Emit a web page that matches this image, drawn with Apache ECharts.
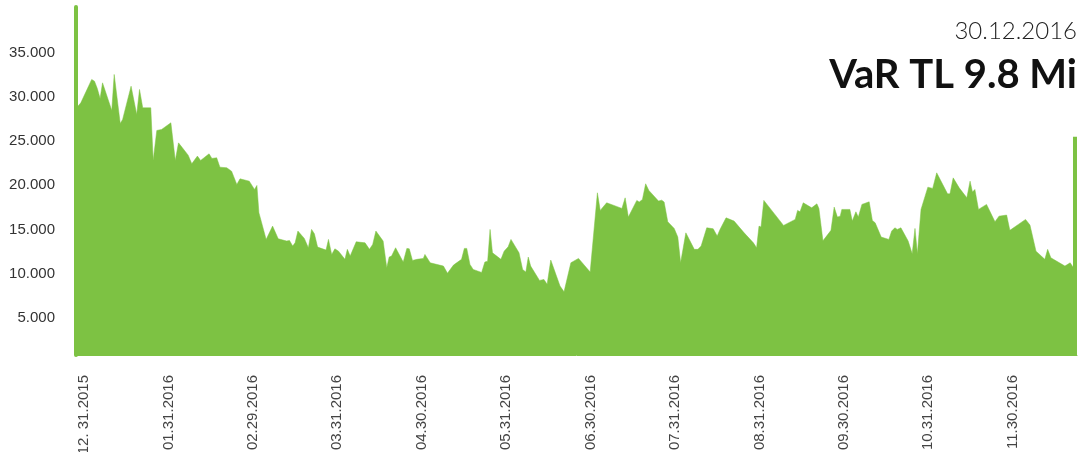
<!DOCTYPE html>
<html>
<head>
<meta charset="utf-8">
<script src="https://cdn.jsdelivr.net/npm/echarts@6/dist/echarts.min.js"></script>
<style>html,body{margin:0;padding:0;background:#fff}#c{width:1078px;height:452px}</style>
</head>
<body>
<div id="c"></div>
<script>
// trading-day position of each vertex
const dayIdx = [0,1.2,3.9,4.6,5.3,6,6.6,8.9,9.5,11,11.6,13.7,15.1,15.8,16.6,18.6,19.2,20.1,21.3,23.6,24.7,25.5,27.9,28.8,30.2,31,33.1,33.8,35,35.8,37.5,38.7,40,40.8,43.1,43.5,44.4,45,45.5,47.3,48.9,50.3,52.4,53.1,53.9,54.5,55.2,56.8,57.8,58.6,59.3,60.1,62.2,62.8,63.6,64.4,65.3,66.9,67.5,68.2,69.7,71.9,72.3,73,73.8,74.6,76.4,77.3,77.9,78.5,79.5,81.4,82.3,82.9,83.7,84.8,86.4,86.8,88.1,91.4,92.4,93.9,95.9,96.6,97.2,98,98.8,100.9,101.7,102.4,103,103.6,105.7,106.5,107.5,108.2,110.2,111.1,111.9,112.5,113.1,115.3,116.4,117.2,118.1,120.4,121.4,123.1,125,127.9,129.7,130.4,132,134.3,135.8,136.6,137.4,139.5,140.1,140.9,141.7,142.5,144.9,145.7,146.3,147.2,148.8,149.7,150.4,151.7,153.8,154.7,155.5,156.9,158.5,159.5,160.2,161.7,163.7,166.2,168.5,169.3,169.9,170.4,171.1,176,178.9,179.5,180.1,180.9,183,184.3,184.8,185.8,187.8,188.6,189.4,190.1,190.5,192.5,193.1,194,194.6,195.5,197.3,198.1,198.8,200.3,202.2,202.9,203.7,204.3,205.2,207,208,208.7,209.3,210.2,211.9,213.1,214.1,216.8,217.4,218.2,219.7,221.6,222.4,223,223.6,224.5,226.5,228.6,229.6,231.5,232.3,234.4,236.2,237.3,238.8,241,241.7,242.5,246,247.3,248];
// VaR values (TL thousands)
const varValues = [28700,29330,31970,31780,30950,29820,31590,28460,32540,27000,27450,31210,28010,30840,28760,28760,22810,26200,26320,27070,22810,24800,23410,22430,23300,22810,23560,23040,23110,22050,21980,21600,20100,20730,20470,20660,19530,19980,16900,13880,15380,13950,13690,13760,13120,13490,14820,13990,12930,15010,14510,13010,12670,13880,12180,12810,12550,11620,12750,11990,13610,13490,13610,12750,13310,14820,13690,10670,11880,11990,12930,11310,12860,12810,11500,11620,11730,12180,11230,10860,10050,10970,11620,12860,12860,11050,10480,10140,11310,11420,15010,12360,11620,12550,13040,13880,12360,10480,10180,11880,10860,9240,9350,8790,11540,8600,7950,11230,11730,10180,19150,17160,18020,17640,17380,18580,16400,18290,18100,18400,20170,19420,18210,18320,18100,15870,15120,14140,11230,14620,12750,12750,13120,15190,15080,14250,15010,16320,15950,14620,13490,12930,15380,15270,18290,15460,16140,17160,17000,18020,17450,17900,17380,13720,14900,17530,16400,16510,17270,17270,15950,17000,16400,17840,18130,16030,15750,14140,13880,14820,15190,15010,15190,13690,12250,15120,12250,17270,19790,19650,21410,19030,19030,20840,19710,18580,20470,19230,19530,17270,17840,15870,16510,16630,14900,15570,16140,15500,12550,11620,12750,11800,10860,11230,10750];
// final-day value shown as a bar
const lastDay = [248.5];
const lastValue = [25500];

const xTickPos = [2,23,44,65,86,107,128,149,170,191,212,233];
const xTickLabels = ['12. 31.2015','01.31.2016','02.29.2016','03.31.2016','04.30.2016','05.31.2016','06.30.2016','07.31.2016','08.31.2016','09.30.2016','10.31.2016','11.30.2016'];
const yTickVals = [5000,10000,15000,20000,25000,30000,35000];
const yTickLabels = ['5.000','10.000','15.000','20.000','25.000','30.000','35.000'];
const dateText = '30.12.2016';
const headline = 'VaR TL 9.8 Mi';

const GREEN = '#7dc243';
const chart = echarts.init(document.getElementById('c'), null, {renderer:'canvas'});
chart.setOption({
  animation:false,
  title:[
    {text:dateText, right:1, top:19, padding:0,
     textStyle:{fontFamily:'Lato', fontWeight:300, fontSize:24, color:'#222', lineHeight:24}},
    {text:headline, right:1, top:55, padding:0,
     textStyle:{fontFamily:'Lato', fontWeight:'bold', fontSize:40, color:'#111', lineHeight:40}}
  ],
  grid:{left:76, right:1, top:7, bottom:97, containLabel:false, outerBoundsMode:'none'},
  xAxis:{
    type:'value', min:0, max:249,
    axisLine:{show:true, lineStyle:{color:GREEN, width:1}},
    axisTick:{show:false}, splitLine:{show:false},
    axisLabel:{
      customValues:xTickPos, rotate:90, margin:20,
      fontFamily:'Liberation Sans, Arial', fontSize:15, color:'#444',
      formatter:function(v){const i=xTickPos.indexOf(Math.round(v));return i>=0?xTickLabels[i]:'';}
    }
  },
  yAxis:{
    type:'value', min:800, max:40170,
    axisLine:{show:true, lineStyle:{color:GREEN, width:4}},
    axisTick:{show:false}, splitLine:{show:false},
    axisLabel:{
      customValues:yTickVals, margin:21,
      fontFamily:'Liberation Sans, Arial', fontSize:15, color:'#333',
      formatter:function(v){const i=yTickVals.indexOf(Math.round(v));return i>=0?yTickLabels[i]:'';}
    }
  },
  series:[
    {type:'line', data:dayIdx.map((d,i)=>[d,varValues[i]]), showSymbol:false,
     lineStyle:{width:0.5, color:GREEN}, areaStyle:{color:GREEN, opacity:1, origin:'start'}, z:2},
    {type:'bar', data:lastDay.map((d,i)=>[d,lastValue[i]]), barWidth:4,
     itemStyle:{color:GREEN}, z:2}
  ]
});
</script>
</body>
</html>
